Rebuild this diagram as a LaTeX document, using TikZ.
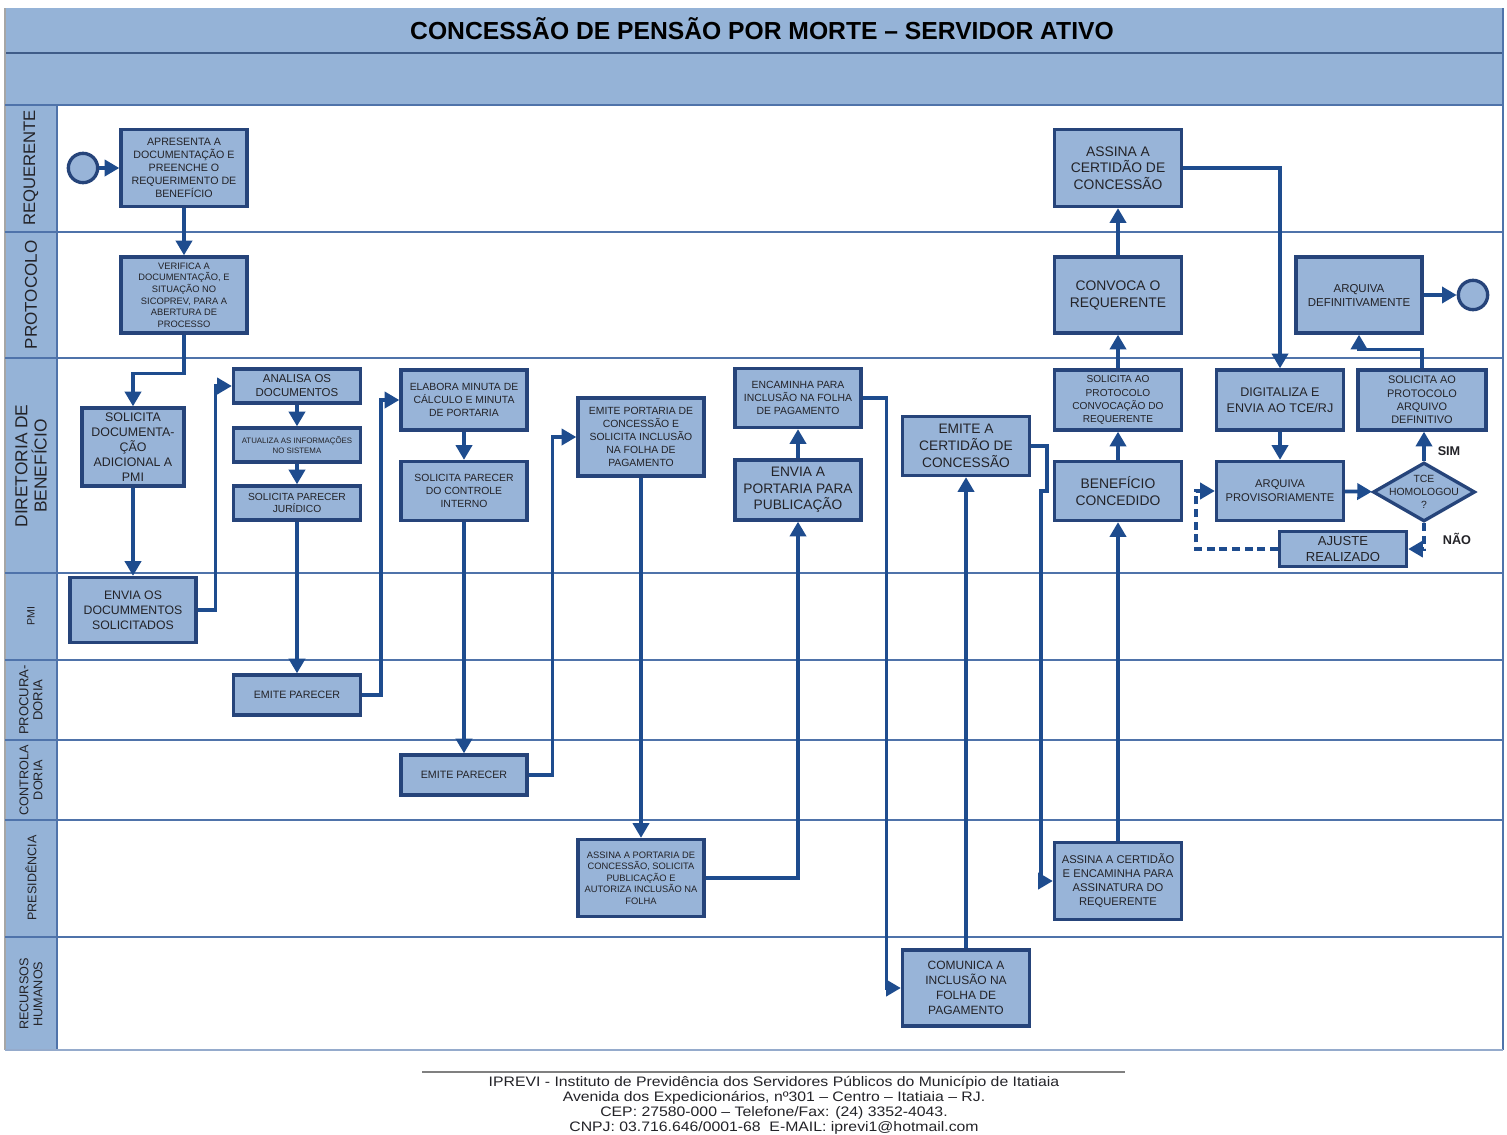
\documentclass[tikz,border=0pt]{standalone}
\usepackage{fontspec}
\setmainfont{Liberation Sans}
\newfontfamily\footfont[FakeStretch=1.15]{Liberation Sans}
\usetikzlibrary{arrows.meta,shapes.geometric}
\definecolor{lanefill}{RGB}{149,179,215}
\definecolor{boxfill}{RGB}{152,180,216}
\definecolor{bdr}{RGB}{38,68,122}
\definecolor{arrc}{RGB}{30,76,142}
\definecolor{lanel}{RGB}{79,115,170}
\definecolor{txt}{RGB}{35,35,40}
\tikzset{
  box/.style n args={4}{draw=bdr, fill=boxfill, line width=2.5pt, align=center,
    inner sep=0pt, text=txt, minimum width=#1*0.75pt, minimum height=#2*0.75pt,
    font={\fontsize{#3}{#4}\selectfont}},
  evt/.style={circle, draw=bdr, fill=boxfill, line width=2.5pt, minimum size=22pt, inner sep=0pt},
  arr/.style={draw=arrc, line width=2.7pt, -{Triangle[length=11pt,width=12pt]}},
  dsh/.style={arr, dash pattern=on 6pt off 3.5pt},
  lanelbl/.style={rotate=90, align=center, text=txt},
  lanesep/.style={draw=lanel, line width=1pt},
  yn/.style={font=\bfseries\fontsize{9.5}{11}\selectfont, text=txt},
}
\begin{document}
\begin{tikzpicture}[x=0.75pt,y=-0.75pt]
\useasboundingbox (0,0) rectangle (1507,1135);
\fill[white] (0,0) rectangle (1507,1135);
% header bands
\fill[lanefill] (5,8) rectangle (1503,105);
\draw[draw=lanel!80!black, line width=1.2pt] (5,53) -- (1503,53);
\node[font=\bfseries\fontsize{18.5}{22}\selectfont, text=black] (title) at (762,29) {CONCESSÃO DE PENSÃO POR MORTE – SERVIDOR ATIVO};
% lane label column
\fill[lanefill] (5,105) rectangle (57,1050);
% frame lines
\draw[draw=gray!70, line width=1pt] (5,8) -- (5,1050);
\draw[draw=lanel, line width=1pt] (1503,8) -- (1503,1050);
\draw[draw=lanel, line width=1pt] (57,105) -- (57,1050);
\foreach \yy in {105,232,358,573,660,740,820,937}
  \draw[lanesep] (5,\yy) -- (1503,\yy);
\draw[draw=lanel!60, line width=0.8pt] (5,1050) -- (1503,1050);
% lane labels
\node[lanelbl, font=\fontsize{12.5}{14}\selectfont] (l1) at (31,168) {REQUERENTE};
\node[lanelbl, font=\fontsize{12.8}{14}\selectfont] (l2) at (31,295) {PROTOCOLO};
\node[lanelbl, font=\fontsize{13}{14.5}\selectfont] (l3) at (31,466) {DIRETORIA DE\\BENEFÍCIO};
\node[lanelbl, font=\fontsize{8}{10}\selectfont] (l4) at (31,616) {PMI};
\node[lanelbl, font=\fontsize{9.8}{10.5}\selectfont] (l5) at (31,700) {PROCURA-\\DORIA};
\node[lanelbl, font=\fontsize{9.5}{10.5}\selectfont] (l6) at (31,780) {CONTROLA\\DORIA};
\node[lanelbl, font=\fontsize{9.4}{10.5}\selectfont] (l7) at (31,878) {PRESIDÊNCIA};
\node[lanelbl, font=\fontsize{9.5}{10.5}\selectfont] (l8) at (31,994) {RECURSOS\\HUMANOS};
% events
\node[evt] (start) at (83,168) {};
\node[evt] (end) at (1473,295) {};
% boxes
\node[box={126}{77}{8}{9.8}] (apre) at (184,168) {APRESENTA A\\DOCUMENTAÇÃO E\\PREENCHE O\\REQUERIMENTO DE\\BENEFÍCIO};
\node[box={126}{76}{7}{8.7}] (verif) at (184,295) {VERIFICA A\\DOCUMENTAÇÃO, E\\SITUAÇÃO NO\\SICOPREV, PARA A\\ABERTURA DE\\PROCESSO};
\node[box={102}{78}{9.3}{11.2}] (solic) at (133,447) {SOLICITA\\DOCUMENTA-\\ÇÃO\\ADICIONAL A\\PMI};
\node[box={126}{65}{9.2}{11.2}] (envia) at (133,610) {ENVIA OS\\DOCUMMENTOS\\SOLICITADOS};
\node[box={127}{34}{8.6}{10.5}] (anal) at (297,386) {ANALISA OS\\DOCUMENTOS};
\node[box={127}{34}{5.9}{7}] (atual) at (297,445) {ATUALIZA AS INFORMAÇÕES\\NO SISTEMA};
\node[box={127}{34}{7.7}{9.5}] (sjur) at (297,503) {SOLICITA PARECER\\JURÍDICO};
\node[box={127}{40}{8}{9.5}] (eproc) at (297,695) {EMITE PARECER};
\node[box={126}{60}{7.8}{9.6}] (elab) at (464,400) {ELABORA MINUTA DE\\CÁLCULO E MINUTA\\DE PORTARIA};
\node[box={126}{59}{7.8}{9.6}] (sci) at (464,491) {SOLICITA PARECER\\DO CONTROLE\\INTERNO};
\node[box={126}{40}{8}{9.5}] (econt) at (464,775) {EMITE PARECER};
\node[box={126}{78}{7.8}{9.8}] (eport) at (641,437) {EMITE PORTARIA DE\\CONCESSÃO E\\SOLICITA INCLUSÃO\\NA FOLHA DE\\PAGAMENTO};
\node[box={126}{77}{7}{8.6}] (aport) at (641,878) {ASSINA A PORTARIA DE\\CONCESSÃO, SOLICITA\\PUBLICAÇÃO E\\AUTORIZA INCLUSÃO NA\\FOLHA};
\node[box={126}{59}{7.8}{9.8}] (encam) at (798,398) {ENCAMINHA PARA\\INCLUSÃO NA FOLHA\\DE PAGAMENTO};
\node[box={126}{60}{10.3}{12.5}] (envp) at (798,490) {ENVIA A\\PORTARIA PARA\\PUBLICAÇÃO};
\node[box={127}{59}{10.3}{12.5}] (ecert) at (966,446) {EMITE A\\CERTIDÃO DE\\CONCESSÃO};
\node[box={127}{76}{9}{11.2}] (comun) at (966,988) {COMUNICA A\\INCLUSÃO NA\\FOLHA DE\\PAGAMENTO};
\node[box={127}{77}{8.4}{10.5}] (acert) at (1118,881) {ASSINA A CERTIDÃO\\E ENCAMINHA PARA\\ASSINATURA DO\\REQUERENTE};
\node[box={127}{59}{10.4}{12.5}] (benef) at (1118,491) {BENEFÍCIO\\CONCEDIDO};
\node[box={127}{60}{7.6}{9.8}] (sconv) at (1118,400) {SOLICITA AO\\PROTOCOLO\\CONVOCAÇÃO DO\\REQUERENTE};
\node[box={127}{76}{10.4}{12.8}] (convoca) at (1118,295) {CONVOCA O\\REQUERENTE};
\node[box={127}{77}{10.4}{12.5}] (ascon) at (1118,168) {ASSINA A\\CERTIDÃO DE\\CONCESSÃO};
\node[box={127}{60}{9.4}{12}] (digit) at (1280,400) {DIGITALIZA E\\ENVIA AO TCE/RJ};
\node[box={127}{59}{8.4}{10.5}] (arqprov) at (1280,491) {ARQUIVA\\PROVISORIAMENTE};
\node[box={102}{59}{7.8}{9.8}, diamond, aspect=1.73,
  label={[align=center, text=txt, font=\fontsize{7.8}{9.8}\selectfont]center:TCE\\HOMOLOGOU\\?}] (tce) at (1424,492) {};
\node[box={128}{60}{8.2}{10}] (sarq) at (1422,400) {SOLICITA AO\\PROTOCOLO\\ARQUIVO\\DEFINITIVO};
\node[box={126}{76}{8.6}{10.5}] (arqdef) at (1359,295) {ARQUIVA\\DEFINITIVAMENTE};
\node[box={127}{35}{9.8}{11.5}] (ajuste) at (1343,549) {AJUSTE\\REALIZADO};
\node[yn] (sim) at (1449,451) {SIM};
\node[yn] (nao) at (1457,539) {NÃO};
% connectors
\draw[arr] (start) -- (apre);
\draw[arr] (apre) -- (verif);
\draw[arr] (verif.south) -- ++(0,39) -| (solic.north);
\draw[arr] (solic) -- (envia);
\draw[arr] (envia.east) -- ++(18,0) |- (anal.west);
\draw[arr] (anal) -- (atual);
\draw[arr] (atual) -- (sjur);
\draw[arr] (sjur) -- (eproc);
\draw[arr] (eproc.east) -- ++(19,0) |- (elab.west);
\draw[arr] (elab) -- (sci);
\draw[arr] (sci) -- (econt);
\draw[arr] (econt.east) -- ++(24,0) |- (eport.west);
\draw[arr] (eport) -- (aport);
\draw[arr] (aport.east) -| (envp.south);
\draw[arr] (envp) -- (encam);
\draw[arr] (encam.east) -- ++(24,0) |- (comun.west);
\draw[arr] (comun) -- (ecert);
\draw[arr] (ecert.east) -- ++(16,0) -- ++(0,45) -- ++(-6,0) |- (acert.west);
\draw[arr] (acert) -- (benef);
\draw[arr] (benef) -- (sconv);
\draw[arr] (sconv) -- (convoca);
\draw[arr] (convoca) -- (ascon);
\draw[arr] (ascon.east) -| (digit.north);
\draw[arr] (digit) -- (arqprov);
\draw[arr] (arqprov) -- (tce);
\draw[arr] (tce.north) -- (tce.north |- sarq.south);
\draw[dsh] (tce.south) |- (ajuste.east);
\draw[dsh] (ajuste.west) -- ++(-82,0) |- (arqprov.west);
\draw[arr] (sarq.north) -- ++(0,-19) -| (arqdef.south);
\draw[arr] (arqdef) -- (end);
% footer
\draw[draw=gray, line width=0.8pt] (422,1072) -- (1125,1072);
\node[align=center, font=\footfont\fontsize{10.3}{11.2}\selectfont, text=txt, anchor=north] (foot) at (774,1072)
 {IPREVI - Instituto de Previdência dos Servidores Públicos do Município de Itatiaia\\
  Avenida dos Expedicionários, nº301 – Centro – Itatiaia – RJ.\\
  CEP: 27580-000 – Telefone/Fax: (24) 3352-4043.\\
  CNPJ: 03.716.646/0001-68\ \ E-MAIL: iprevi1@hotmail.com};
\end{tikzpicture}
\end{document}
